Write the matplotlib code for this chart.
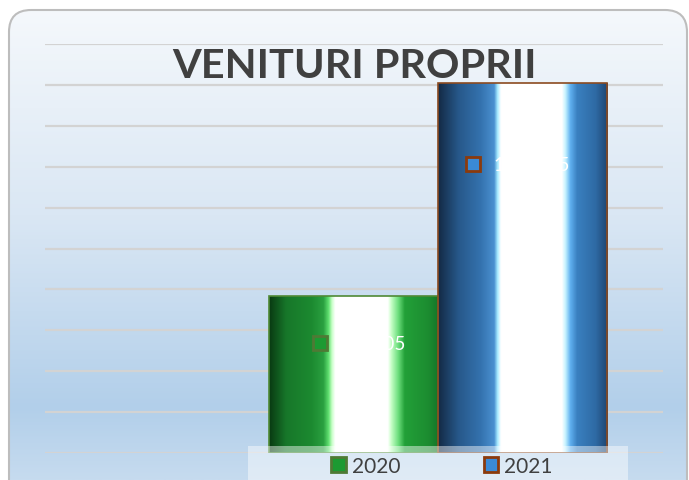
import matplotlib
matplotlib.use('Agg')
import matplotlib.pyplot as plt
from matplotlib.colors import LinearSegmentedColormap
from matplotlib.patches import FancyBboxPatch, Rectangle, Patch
import numpy as np

plt.rcParams['font.family'] = ['Lato', 'DejaVu Sans']

# Data (labels are hidden by the highlight)
title = 'VENITURI PROPRII'
years = ['2020', '2021']
values = [767605, 1809345]
label_frac = [0.70, 0.78]      # where Excel put the data labels inside each bar
label_dx = [14, 6.5]           # label nudge to the right, points
y_max = 2000000
grid_step = 200000

# Colours
green_stops = [(0.00, '#093a12'), (0.10, '#17772a'), (0.25, '#1c8a30'), (0.32, '#2aa040'),
               (0.35, '#60e070'), (0.37, '#c8ffc8'), (0.39, '#ffffff'), (0.70, '#ffffff'),
               (0.72, '#c8ffc8'), (0.76, '#70e080'), (0.80, '#22a038'), (0.94, '#1c8c30'),
               (1.00, '#157528')]
blue_stops = [(0.00, '#132a45'), (0.12, '#27588a'), (0.25, '#3472ae'), (0.33, '#4a90d0'),
              (0.35, '#a8ecff'), (0.37, '#ffffff'), (0.73, '#ffffff'), (0.75, '#c8f4ff'),
              (0.78, '#60b0f0'), (0.82, '#3a80c0'), (0.93, '#2e6aa4'), (1.00, '#1e4470')]
bar_stops = [green_stops, blue_stops]
key_face = ['#1c9a32', '#3a8ad6']
key_edge = ['#4f7a35', '#8b3a0c']
bar_edge = ['#4f8a35', '#8b4a20']

W, H = 689, 481
fig = plt.figure(figsize=(W / 100, H / 100), dpi=100)

# background panel with rounded corners and vertical gradient
bg = fig.add_axes([0, 0, 1, 1])
bg.set_xlim(0, W)
bg.set_ylim(H, 0)
bg.axis('off')
panel = FancyBboxPatch((9, 11), 678, 520, boxstyle='round,pad=0,rounding_size=22',
                       facecolor='none', edgecolor='#bdbdbd', linewidth=1.5, zorder=3)
bg.add_patch(panel)
bg_cmap = LinearSegmentedColormap.from_list(
    'bg', [(0, '#f6f9fc'), (0.45, '#dae7f4'), (0.85, '#b2cfea'), (1.0, '#c6dbef')])
im = bg.imshow(np.linspace(0, 1, 256).reshape(-1, 1), cmap=bg_cmap,
               extent=[0, W, H, 0], aspect='auto', zorder=1)
im.set_clip_path(panel)
bg.set_xlim(0, W)
bg.set_ylim(H, 0)

# plot area
ax = fig.add_axes([45 / W, (H - 454) / H, 618 / W, 409 / H])
ax.patch.set_alpha(0)
width = 0.2735
xs = [-width / 2, width / 2]
bars = ax.bar(xs, values, width=width, facecolor='none', edgecolor=bar_edge,
              linewidth=1.2, zorder=3)

for bar, stops in zip(bars, bar_stops):
    cmap = LinearSegmentedColormap.from_list('bar', stops)
    x0, h = bar.get_x(), bar.get_height()
    gi = ax.imshow(np.linspace(0, 1, 256).reshape(1, -1), cmap=cmap,
                   extent=[x0, x0 + bar.get_width(), 0, h], aspect='auto', zorder=2.5)
    gi.set_clip_path(bar)

ax.set_xlim(-0.636, 0.364)
ax.set_ylim(0, y_max)
ax.set_yticks(np.arange(0, y_max + 1, grid_step))
ax.grid(axis='y', color='#d3d3d3', linewidth=1.6, zorder=0)
ax.set_axisbelow(True)
ax.tick_params(left=False, bottom=False, labelleft=False, labelbottom=False)
for s in ax.spines.values():
    s.set_visible(False)

# data labels with legend key
renderer = fig.canvas.get_renderer()
for x, v, f, dx, fc, ec in zip(xs, values, label_frac, label_dx, key_face, key_edge):
    t = ax.annotate(str(v), (x, v * f), xytext=(dx, 0), textcoords='offset points',
                    ha='center', va='center', color='white', fontsize=13.5, zorder=5)
    bb = t.get_window_extent(renderer)
    kx = bb.x0 - 20
    ky = (bb.y0 + bb.y1) / 2
    fig.patches.append(Rectangle((kx - 7, ky - 7), 14, 14, transform=None,
                                 facecolor=fc, edgecolor=ec, linewidth=2, zorder=5))

# title
fig.text(354 / W, 1 - 78 / H, title, ha='center', va='baseline', fontsize=29.8,
         fontweight='bold', color='#404040')

# legend area
fig.patches.append(Rectangle((248 / W, 0), 380 / W, 34 / H, transform=fig.transFigure,
                             facecolor='white', alpha=0.45, edgecolor='none', zorder=4))
handles = [Patch(facecolor=fc, edgecolor=ec, linewidth=2) for fc, ec in zip(key_face, key_edge)]
fig.legend(handles, years, loc='center', bbox_to_anchor=(442 / W, 1 - 467 / H), ncol=2,
           frameon=False, fontsize=15, labelcolor='#404040', handlelength=0.7,
           handleheight=0.7, handletextpad=0.3, columnspacing=4.0)

fig.savefig('out.png', dpi=100)
